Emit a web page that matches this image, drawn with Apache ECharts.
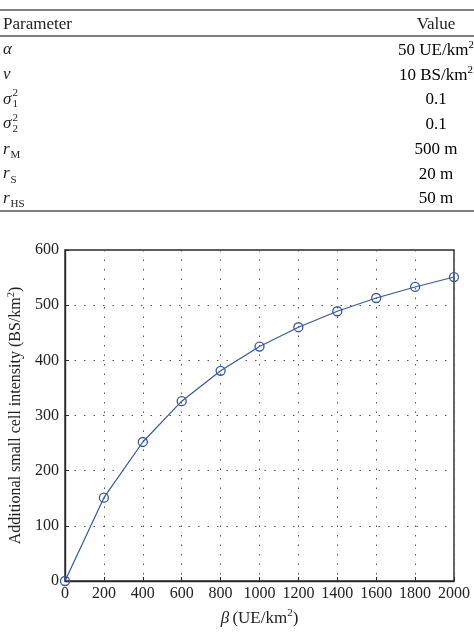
<!DOCTYPE html>
<html>
<head>
<meta charset="utf-8">
<script src="https://cdn.jsdelivr.net/npm/echarts@6/dist/echarts.min.js"></script>
<style>
html,body{margin:0;padding:0;background:#fff;}
#c{width:474px;height:632px;}
</style>
</head>
<body>
<div id="c"></div>
<script>
// ---- data ----
var betaValues = [0, 200, 400, 600, 800, 1000, 1200, 1400, 1600, 1800, 2000];
var intensityValues = [0, 151, 252, 326, 381, 425, 460, 489, 513, 533, 551];
var xTicks = [0, 200, 400, 600, 800, 1000, 1200, 1400, 1600, 1800, 2000];
var yTicks = [0, 100, 200, 300, 400, 500, 600];
var tableHeader = ['Parameter', 'Value'];
var paramBase = ['α', 'ν', 'σ', 'σ', 'r', 'r', 'r'];
var paramSup = ['', '', '2', '2', '', '', ''];
var paramSub = ['', '', '1', '2', 'M', 'S', 'HS'];
var paramValues = ['{n|50 UE/km}{sp|2}', '{n|10 BS/km}{sp|2}', '{n|0.1}', '{n|0.1}', '{n|500 m}', '{n|20 m}', '{n|50 m}'];

var FONT = '"Liberation Serif", "DejaVu Serif", serif';
var COLOR = '#222';
var richBase = {
  n: {fontFamily: FONT, fontSize: 17, color: COLOR, lineHeight: 22},
  i: {fontFamily: FONT, fontSize: 17, fontStyle: 'italic', color: COLOR, lineHeight: 22},
  sp: {fontFamily: FONT, fontSize: 11, color: COLOR, verticalAlign: 'top', lineHeight: 11}
};
var richY = {
  n: {fontFamily: FONT, fontSize: 16, color: COLOR, lineHeight: 21},
  sp: {fontFamily: FONT, fontSize: 10.5, color: COLOR, verticalAlign: 'top', lineHeight: 10}
};

var measureCtx = document.createElement('canvas').getContext('2d');
function textWidth(t, font) { measureCtx.font = font; return measureCtx.measureText(t).width; }
// place text by its baseline (middle of em box sits ~0.35em above baseline)
function textAt(x, baseline, txt, size, italic, align) {
  var f = (italic ? 'italic ' : '') + size + 'px ' + FONT;
  return {type: 'text', x: x, y: baseline - 0.35 * size,
          style: {text: txt, font: f, fill: COLOR, textAlign: align || 'left', textVerticalAlign: 'middle'}};
}

var graphics = [];
// table rules
[10, 36, 211].forEach(function (y) {
  graphics.push({type: 'line', silent: true, shape: {x1: 0, y1: y, x2: 474, y2: y}, style: {stroke: '#555', lineWidth: 1.5}});
});
graphics.push(textAt(3, 30, tableHeader[0], 17, false, 'left'));
graphics.push(textAt(436, 30, tableHeader[1], 17, false, 'center'));
var rowBase = [55.5, 80.5, 105, 129.5, 155, 179.5, 204];
paramBase.forEach(function (p, k) {
  var yb = rowBase[k];
  graphics.push(textAt(3, yb, p, 17, true, 'left'));
  var xs = 3 + textWidth(p, 'italic 17px ' + FONT) + 1;
  if (paramSup[k]) graphics.push(textAt(xs, yb - 8, paramSup[k], 11, false, 'left'));
  if (paramSub[k]) graphics.push(textAt(xs, yb + (paramSup[k] ? 3 : 4), paramSub[k], 11, false, 'left'));
  graphics.push({type: 'text', x: 436, y: yb - 5, style: {text: paramValues[k], rich: richBase, textAlign: 'center', textVerticalAlign: 'middle'}});
});

var chart = echarts.init(document.getElementById('c'));
chart.setOption({
  animation: false,
  backgroundColor: '#fff',
  graphic: graphics,
  grid: {left: 65, right: 20, top: 250, bottom: 51, containLabel: false, outerBoundsMode: 'none',
         show: true, borderColor: '#2a2a2a', borderWidth: 1.4, backgroundColor: 'transparent'},
  xAxis: {
    type: 'value', min: xTicks[0], max: xTicks[xTicks.length - 1], interval: 200,
    name: '{i|β} {n|(UE/km}{sp|2}{n|)}', nameLocation: 'middle', nameGap: 27,
    nameTextStyle: {rich: richBase},
    axisLine: {show: true, lineStyle: {color: '#2a2a2a', width: 1.4}},
    axisTick: {show: true, inside: true, length: 4, lineStyle: {color: '#2a2a2a'}},
    axisLabel: {fontFamily: FONT, fontSize: 16, color: COLOR, margin: 5, formatter: function (v) { return String(v); }},
    splitLine: {show: true, lineStyle: {color: '#555', type: [1.5, 8], width: 1}}
  },
  yAxis: {
    type: 'value', min: yTicks[0], max: yTicks[yTicks.length - 1], interval: 100,
    name: '{n|Additional small cell intensity (BS/km}{sp|2}{n|)}', nameLocation: 'middle', nameGap: 33,
    nameTextStyle: {rich: richY},
    axisLine: {show: true, lineStyle: {color: '#2a2a2a', width: 1.4}},
    axisTick: {show: true, inside: true, length: 4, lineStyle: {color: '#2a2a2a'}},
    axisLabel: {fontFamily: FONT, fontSize: 16, color: COLOR, margin: 6, formatter: function (v) { return String(v); }},
    splitLine: {show: true, lineStyle: {color: '#555', type: [1.5, 8], width: 1}}
  },
  series: [{
    type: 'line',
    data: betaValues.map(function (b, k) { return [b, intensityValues[k]]; }),
    symbol: 'circle', symbolSize: 9, showAllSymbol: true,
    itemStyle: {color: 'rgba(255,255,255,0)', borderColor: '#3556a6', borderWidth: 1.3},
    lineStyle: {color: '#3556a6', width: 1.2},
    clip: false
  }]
});
</script>
</body>
</html>
